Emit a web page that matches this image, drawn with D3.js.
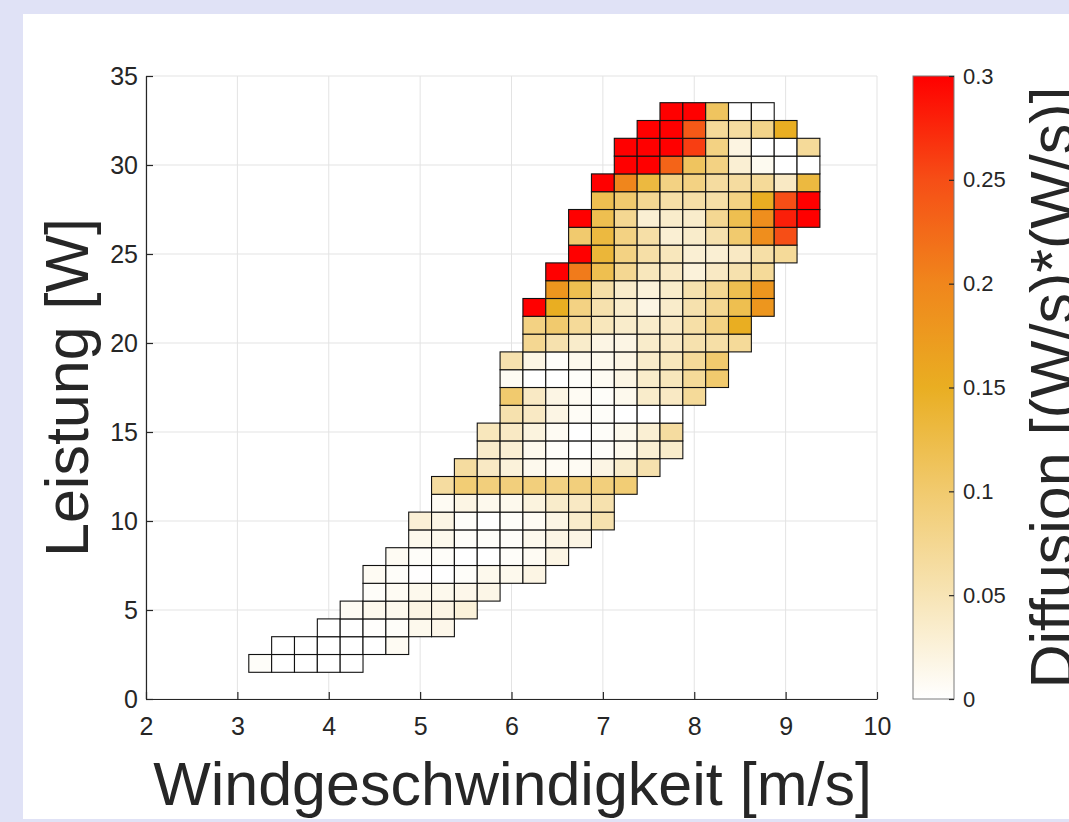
<!DOCTYPE html>
<html>
<head>
<meta charset="utf-8">
<title>Diffusion Leistung / Windgeschwindigkeit</title>
<script src="https://cdn.jsdelivr.net/npm/d3@7"></script>
<style>
  html, body { margin: 0; padding: 0; background: #e0e2f6; overflow: hidden; }
  svg { display: block; font-family: "Liberation Sans", Arial, sans-serif; }
</style>
</head>
<body>
<svg id="chart" width="1069" height="822"></svg>
<script>
// wind speed bin centres [m/s]
var windBins = [3.25, 3.5, 3.75, 4, 4.25, 4.5, 4.75, 5, 5.25, 5.5, 5.75, 6, 6.25,
  6.5, 6.75, 7, 7.25, 7.5, 7.75, 8, 8.25, 8.5, 8.75, 9, 9.25];
var windStep = 0.25;

// power bin centres [W], one row of cells each
var powerBins = [2, 3, 4, 5, 6, 7, 8, 9, 10, 11, 12, 13, 14, 15, 16, 17,
  18, 19, 20, 21, 22, 23, 24, 25, 26, 27, 28, 29, 30, 31, 32, 33];

// first wind bin of every row
var rowFirst = [3.25, 3.5, 4, 4.25, 4.5, 4.5, 4.75, 5, 5, 5.25, 5.25, 5.5, 5.75, 5.75, 6, 6,
  6, 6, 6.25, 6.25, 6.25, 6.5, 6.5, 6.75, 6.75, 6.75, 7, 7, 7.25, 7.25, 7.5, 7.75];

// diffusion values per row [(W/s)*(W/s)]
var rowValues = [
  [0.004, 0, 0, 0, 0],
  [0, 0, 0, 0, 0, 0.008],
  [0, 0, 0.002, 0.004, 0.012, 0.014],
  [0.008, 0.012, 0.012, 0.018, 0.018, 0.025],
  [0.004, 0.008, 0.012, 0.012, 0.014, 0.016],
  [0.008, 0.004, 0.001, 0, 0.004, 0.012, 0.012, 0.018],
  [0.008, 0.004, 0.004, 0, 0, 0.004, 0.008, 0.018],
  [0.012, 0.012, 0.004, 0.004, 0.004, 0.012, 0.018, 0.018],
  [0.028, 0.018, 0.004, 0, 0.004, 0.008, 0.018, 0.035, 0.055],
  [0.008, 0.018, 0.012, 0.012, 0.022, 0.035, 0.04, 0.055],
  [0.065, 0.095, 0.09, 0.09, 0.09, 0.085, 0.09, 0.09, 0.095],
  [0.065, 0.04, 0.025, 0.012, 0.008, 0.008, 0.018, 0.035, 0.055],
  [0.035, 0.03, 0.012, 0.004, 0, 0.004, 0.012, 0.03, 0.035],
  [0.045, 0.04, 0.022, 0.008, 0, 0.004, 0.012, 0.03, 0.065],
  [0.055, 0.04, 0.018, 0.006, 0.004, 0, 0, 0],
  [0.1, 0.04, 0.018, 0.008, 0.004, 0.012, 0.035, 0.04, 0.07],
  [0.008, 0, 0, 0.004, 0.008, 0.018, 0.035, 0.045, 0.07, 0.1],
  [0.055, 0.018, 0.004, 0.012, 0.012, 0.018, 0.035, 0.045, 0.07, 0.1],
  [0.075, 0.055, 0.035, 0.018, 0.018, 0.035, 0.04, 0.055, 0.06, 0.07],
  [0.085, 0.1, 0.07, 0.045, 0.035, 0.035, 0.04, 0.06, 0.085, 0.15],
  [0.3, 0.15, 0.085, 0.055, 0.035, 0.018, 0.035, 0.055, 0.075, 0.12, 0.18],
  [0.18, 0.12, 0.06, 0.035, 0.025, 0.035, 0.055, 0.075, 0.12, 0.18],
  [0.3, 0.21, 0.12, 0.075, 0.045, 0.04, 0.025, 0.04, 0.055, 0.07],
  [0.3, 0.135, 0.085, 0.06, 0.045, 0.03, 0.03, 0.04, 0.06, 0.07],
  [0.1, 0.13, 0.085, 0.06, 0.03, 0.035, 0.055, 0.1, 0.19, 0.25],
  [0.3, 0.12, 0.075, 0.03, 0.035, 0.035, 0.075, 0.12, 0.19, 0.28, 0.3],
  [0.12, 0.1, 0.075, 0.06, 0.06, 0.06, 0.085, 0.15, 0.25, 0.3],
  [0.3, 0.2, 0.13, 0.085, 0.085, 0.065, 0.065, 0.07, 0.04, 0.13],
  [0.3, 0.3, 0.23, 0.11, 0.085, 0.03, 0.01, 0, 0],
  [0.3, 0.3, 0.3, 0.26, 0.085, 0.02, 0, 0, 0.07],
  [0.3, 0.3, 0.24, 0.07, 0.065, 0.08, 0.15],
  [0.3, 0.3, 0.11, 0, 0]
];

var xTicks = [2, 3, 4, 5, 6, 7, 8, 9, 10];
var yTicks = [0, 5, 10, 15, 20, 25, 30, 35];
var cbTicks = [0, 0.05, 0.1, 0.15, 0.2, 0.25, 0.3];
var cbTickLabels = ['0', '0.05', '0.1', '0.15', '0.2', '0.25', '0.3'];
var colorStops = [0, 0.05, 0.1, 0.15, 0.2, 0.25, 0.3];
var colorRange = ['#ffffff', '#f7e4b5', '#f1ca6e', '#e9ae22', '#f0861c', '#f64e16', '#ff0000'];

var xLabel = 'Windgeschwindigkeit [m/s]';
var yLabel = 'Leistung [W]';
var cbLabel = 'Diffusion [(W/s)*(W/s)]';

//----------------------------
var svg = d3.select('#chart');
var axisColor = '#262626';

// white figure panel
svg.append('rect')
  .attr('x', 23).attr('y', 14)
  .attr('width', 1100).attr('height', 805)
  .attr('fill', '#ffffff');

var x = d3.scaleLinear().domain([2, 10]).range([146, 877]);
var y = d3.scaleLinear().domain([0, 35]).range([699, 76]);
var color = d3.scaleLinear().domain(colorStops).range(colorRange).clamp(true);

// grid
var grid = svg.append('g');
grid.selectAll('.vg').data(xTicks).enter().append('line')
  .attr('x1', d => x(d)).attr('x2', d => x(d))
  .attr('y1', y(0)).attr('y2', y(35))
  .attr('stroke', '#e3e3e3').attr('stroke-width', 1);
grid.selectAll('.hg').data(yTicks).enter().append('line')
  .attr('x1', x(2)).attr('x2', x(10))
  .attr('y1', d => y(d)).attr('y2', d => y(d))
  .attr('stroke', '#e3e3e3').attr('stroke-width', 1);

// cells
var cells = [];
rowValues.forEach(function (vals, r) {
  var k0 = windBins.indexOf(rowFirst[r]);
  vals.forEach(function (v, i) {
    cells.push({ w: windBins[k0 + i], p: powerBins[r], v: v });
  });
});

svg.append('g').selectAll('rect').data(cells).enter().append('rect')
  .attr('x', d => x(d.w - windStep / 2))
  .attr('y', d => y(d.p + 0.5))
  .attr('width', d => x(d.w + windStep / 2) - x(d.w - windStep / 2))
  .attr('height', d => y(d.p - 0.5) - y(d.p + 0.5))
  .attr('fill', d => color(d.v))
  .attr('stroke', '#111')
  .attr('stroke-width', 1.1);

// axes
function styleAxis(g, size) {
  g.attr('font-family', null).attr('font-size', null);
  g.select('.domain').attr('stroke', axisColor).attr('stroke-width', 1.2);
  g.selectAll('.tick line').attr('stroke', axisColor).attr('stroke-width', 1.2);
  g.selectAll('.tick text').attr('fill', axisColor).style('font-size', size + 'px');
}

svg.append('g')
  .attr('transform', 'translate(0,' + y(0) + ')')
  .call(d3.axisBottom(x).tickValues(xTicks).tickSizeInner(-7).tickSizeOuter(0).tickPadding(18))
  .call(g => styleAxis(g, 25));

svg.append('g')
  .attr('transform', 'translate(' + x(2) + ',0)')
  .call(d3.axisLeft(y).tickValues(yTicks).tickSizeInner(-7).tickSizeOuter(0).tickPadding(8))
  .call(g => styleAxis(g, 25));

svg.append('text')
  .attr('x', (x(2) + x(10)) / 2 + 1).attr('y', 805)
  .attr('text-anchor', 'middle')
  .attr('fill', axisColor)
  .style('font-size', '61px')
  .text(xLabel);

svg.append('text')
  .attr('transform', 'translate(88,' + (y(0) + y(35)) / 2 + ') rotate(-90)')
  .attr('text-anchor', 'middle')
  .attr('fill', axisColor)
  .style('font-size', '61px')
  .text(yLabel);

// colorbar
var cbX = 913, cbW = 41;
var cb = d3.scaleLinear().domain([0, 0.3]).range([699, 76]);

var grad = svg.append('defs').append('linearGradient')
  .attr('id', 'cbgrad')
  .attr('x1', 0).attr('y1', 1).attr('x2', 0).attr('y2', 0);
grad.selectAll('stop').data(colorStops).enter().append('stop')
  .attr('offset', d => d / 0.3)
  .attr('stop-color', d => color(d));

svg.append('rect')
  .attr('x', cbX).attr('y', cb(0.3))
  .attr('width', cbW).attr('height', cb(0) - cb(0.3))
  .attr('fill', 'url(#cbgrad)')
  .attr('stroke', '#7a7a7a').attr('stroke-width', 1);

svg.append('g')
  .attr('transform', 'translate(' + (cbX + cbW) + ',0)')
  .call(d3.axisRight(cb).tickValues(cbTicks).tickFormat((d, i) => cbTickLabels[i])
    .tickSizeInner(-5).tickSizeOuter(0).tickPadding(9))
  .call(g => styleAxis(g, 22))
  .call(g => g.select('.domain').remove());

svg.append('text')
  .attr('transform', 'translate(1073,' + (cb(0) + cb(0.3)) / 2 + ') rotate(-90)')
  .attr('text-anchor', 'middle')
  .attr('fill', axisColor)
  .style('font-size', '61px')
  .text(cbLabel);
</script>
</body>
</html>
